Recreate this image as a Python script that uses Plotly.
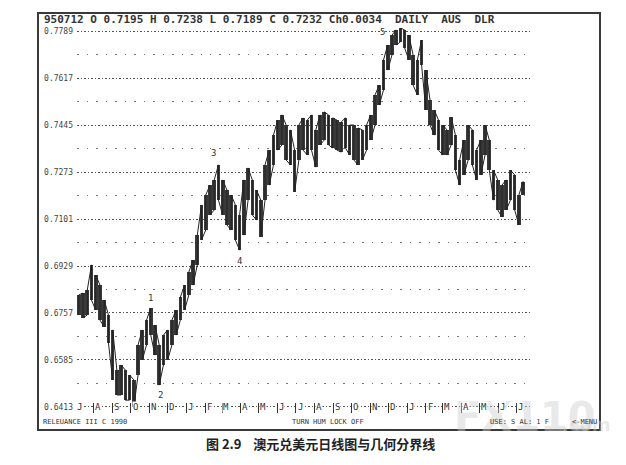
import plotly.graph_objects as go
import pandas as pd

# ---- data (weekly high / low) ----
week_dates = pd.date_range("1993-07-07", periods=106, freq="7D")

highs = [0.6823, 0.6830, 0.6841, 0.6933, 0.6896, 0.6859, 0.6804, 0.6750, 0.6695, 0.6548,
         0.6567, 0.6548, 0.6530, 0.6512, 0.6640, 0.6695, 0.6731, 0.6775, 0.6713, 0.6640,
         0.6676, 0.6695, 0.6731, 0.6768, 0.6815, 0.6859, 0.6907, 0.6951, 0.7042, 0.7152,
         0.7189, 0.7225, 0.7244, 0.7299, 0.7244, 0.7207, 0.7189, 0.7152, 0.7116, 0.7244,
         0.7288, 0.7244, 0.7207, 0.7170, 0.7299, 0.7353, 0.7408, 0.7463, 0.7482, 0.7445,
         0.7427, 0.7353, 0.7445, 0.7471, 0.7463, 0.7482, 0.7427, 0.7482, 0.7493, 0.7482,
         0.7471, 0.7463, 0.7456, 0.7471, 0.7445, 0.7445, 0.7434, 0.7427, 0.7445, 0.7482,
         0.7555, 0.7591, 0.7683, 0.7738, 0.7774, 0.7793, 0.7800, 0.7793, 0.7774, 0.7701,
         0.7683, 0.7756, 0.7646, 0.7536, 0.7500, 0.7463, 0.7445, 0.7427, 0.7474, 0.7408,
         0.7317, 0.7390, 0.7445, 0.7427, 0.7353, 0.7390, 0.7445, 0.7390, 0.7280, 0.7244,
         0.7225, 0.7244, 0.7280, 0.7262, 0.7189, 0.7238]

lows = [0.6750, 0.6739, 0.6750, 0.6804, 0.6768, 0.6731, 0.6706, 0.6647, 0.6512, 0.6457,
        0.6457, 0.6438, 0.6438, 0.6413, 0.6530, 0.6585, 0.6640, 0.6676, 0.6603, 0.6493,
        0.6567, 0.6585, 0.6640, 0.6676, 0.6731, 0.6768, 0.6823, 0.6859, 0.6933, 0.7024,
        0.7061, 0.7116, 0.7134, 0.7170, 0.7116, 0.7079, 0.7061, 0.7024, 0.6987, 0.7042,
        0.7170, 0.7116, 0.7097, 0.7035, 0.7170, 0.7225, 0.7299, 0.7353, 0.7372, 0.7317,
        0.7299, 0.7200, 0.7317, 0.7353, 0.7335, 0.7353, 0.7291, 0.7372, 0.7390, 0.7372,
        0.7361, 0.7353, 0.7346, 0.7361, 0.7335, 0.7317, 0.7299, 0.7317, 0.7353, 0.7390,
        0.7445, 0.7518, 0.7573, 0.7646, 0.7701, 0.7738, 0.7749, 0.7727, 0.7683, 0.7591,
        0.7555, 0.7665, 0.7500, 0.7445, 0.7408, 0.7353, 0.7335, 0.7335, 0.7372, 0.7280,
        0.7225, 0.7262, 0.7317, 0.7299, 0.7244, 0.7262, 0.7335, 0.7280, 0.7170, 0.7134,
        0.7108, 0.7134, 0.7170, 0.7134, 0.7079, 0.7189]

price_levels = [0.6413, 0.6585, 0.6757, 0.6929, 0.7101, 0.7273, 0.7445, 0.7617, 0.7789]
price_labels = ["0.6413", "0.6585", "0.6757", "0.6929", "0.7101", "0.7273", "0.7445", "0.7617", "0.7789"]
half_levels = [0.6499, 0.6671, 0.6843, 0.7015, 0.7187, 0.7359, 0.7531, 0.7703]

month_starts = pd.date_range("1993-07-01", "1995-07-01", freq="MS")
month_letters = ["J", "A", "S", "O", "N", "D", "J", "F", "M", "A", "M", "J",
                 "J", "A", "S", "O", "N", "D", "J", "F", "M", "A", "M", "J", "J"]

wave_labels = ["1", "2", "3", "4", "5"]
wave_weeks = [17, 19, 33, 38, 76]

header_text = ("950712 O 0.7195 H 0.7238 L 0.7189 C 0.7232 Ch0.0034"
               "\u00a0\u00a0DAILY\u00a0\u00a0AUS\u00a0\u00a0DLR")
caption_text = "<b>图 2.9</b>\u00a0\u00a0\u00a0\u00a0<b>澳元兑美元日线图与几何分界线</b>"

W, H = 626, 465
MONO = "DejaVu Sans Mono"
INK = "#333333"


def px(x):
    return x / W


def py(y):
    return 1 - y / H


fig = go.Figure()

# high-low range per week
fig.add_trace(go.Bar(
    x=week_dates,
    y=[h - l for h, l in zip(highs, lows)],
    base=lows,
    width=6.0 * 86400000,
    marker=dict(color="#3a3a3a", line=dict(width=0)),
    hoverinfo="skip",
))

# trace through each week's high and low, alternating, for the jagged bar texture
zx, zy = [], []
for i, (d, h, l) in enumerate(zip(week_dates, highs, lows)):
    zx += [d, d]
    zy += ([l, h] if i % 2 == 0 else [h, l])
fig.add_trace(go.Scatter(
    x=zx, y=zy, mode="lines", line=dict(color="#222", width=1.0),
    hoverinfo="skip",
))

annotations = []

# watermark (drawn first, underneath the rest)
annotations.append(dict(
    x=px(452), y=py(417), xref="paper", yref="paper", text="<b>FX110</b>",
    showarrow=False, xanchor="left", yanchor="middle",
    font=dict(family="DejaVu Sans", size=40, color="rgba(205,205,205,0.45)"),
))
annotations.append(dict(
    x=px(560), y=py(424), xref="paper", yref="paper", text="<b>.com</b>",
    showarrow=False, xanchor="left", yanchor="middle",
    font=dict(family="DejaVu Sans", size=18, color="rgba(205,205,205,0.45)"),
))

# month letters on the bottom dotted line
for ms, letter in zip(month_starts, month_letters):
    annotations.append(dict(
        x=ms + pd.Timedelta(days=7), y=price_levels[0], xref="x", yref="y",
        text=letter, showarrow=False, font=dict(family=MONO, size=9, color=INK),
        bgcolor="white", borderpad=0, xanchor="center", yanchor="middle",
    ))

# wave count labels
wave_offsets = {"1": (0, 10, "high"), "2": (1, -10, "low"), "3": (-5, 12, "high"),
                "4": (0, -11, "low"), "5": (-18, -4, "high")}
for lab, wk in zip(wave_labels, wave_weeks):
    dx, dy, side = wave_offsets[lab]
    yv = highs[wk] if side == "high" else lows[wk]
    annotations.append(dict(
        x=week_dates[wk], y=yv, xref="x", yref="y", text=lab, showarrow=False,
        xshift=dx, yshift=dy, font=dict(family=MONO, size=9, color=INK),
        xanchor="center", yanchor="middle",
    ))

# header
annotations.append(dict(
    x=px(42), y=py(20), xref="paper", yref="paper", text="<b>" + header_text + "</b>",
    showarrow=False, xanchor="left", yanchor="middle",
    font=dict(family=MONO, size=11, color=INK),
))

# footer texts
for txt, xx in [("RELEUANCE III C 1990", 41), ("TURN HUM LOCK OFF", 290),
                ("USE: S AL: 1 F", 488), ("<-MENU", 570)]:
    annotations.append(dict(
        x=px(xx), y=py(422), xref="paper", yref="paper", text=txt,
        showarrow=False, xanchor="left", yanchor="middle",
        font=dict(family=MONO, size=7, color=INK),
    ))

# caption
annotations.append(dict(
    x=px(320), y=py(443), xref="paper", yref="paper", text=caption_text,
    showarrow=False, xanchor="center", yanchor="middle",
    font=dict(family="Noto Sans CJK SC", size=13, color="#222"),
))

shapes = [dict(type="rect", xref="paper", yref="paper",
               x0=px(38), x1=px(600), y0=py(430), y1=py(13),
               line=dict(color="#3a3a3a", width=2), layer="below")]

fig.update_layout(
    width=W, height=H,
    margin=dict(l=0, r=0, t=0, b=0),
    paper_bgcolor="white", plot_bgcolor="white",
    showlegend=False, bargap=0,
    xaxis=dict(
        type="date", domain=[px(77), px(531)],
        range=["1993-07-04", "1995-07-25"],
        tickvals=list(month_starts), showticklabels=False,
        ticks="inside", ticklen=10, tickwidth=1.4, tickcolor=INK,
        showgrid=False, zeroline=False, showline=False,
    ),
    yaxis=dict(
        domain=[1 - 413 / H, 1 - 28 / H],
        range=[0.6391, 0.7800],
        tickvals=price_levels, ticktext=price_labels,
        tickfont=dict(family=MONO, size=8, color="#444"),
        ticks="", ticklabelstandoff=3,
        showgrid=True, gridcolor="#555", gridwidth=1.2, griddash="1.5px,2px",
        minor=dict(tickvals=half_levels, showgrid=True, gridcolor="#777",
                   gridwidth=1.2, griddash="1.5px,8px", ticks=""),
        zeroline=False, showline=False,
    ),
    annotations=annotations,
    shapes=shapes,
)

fig.write_html("out.html", config={"displayModeBar": False},
               post_script="document.body.style.margin='0';"
               "document.body.style.padding='0';")
